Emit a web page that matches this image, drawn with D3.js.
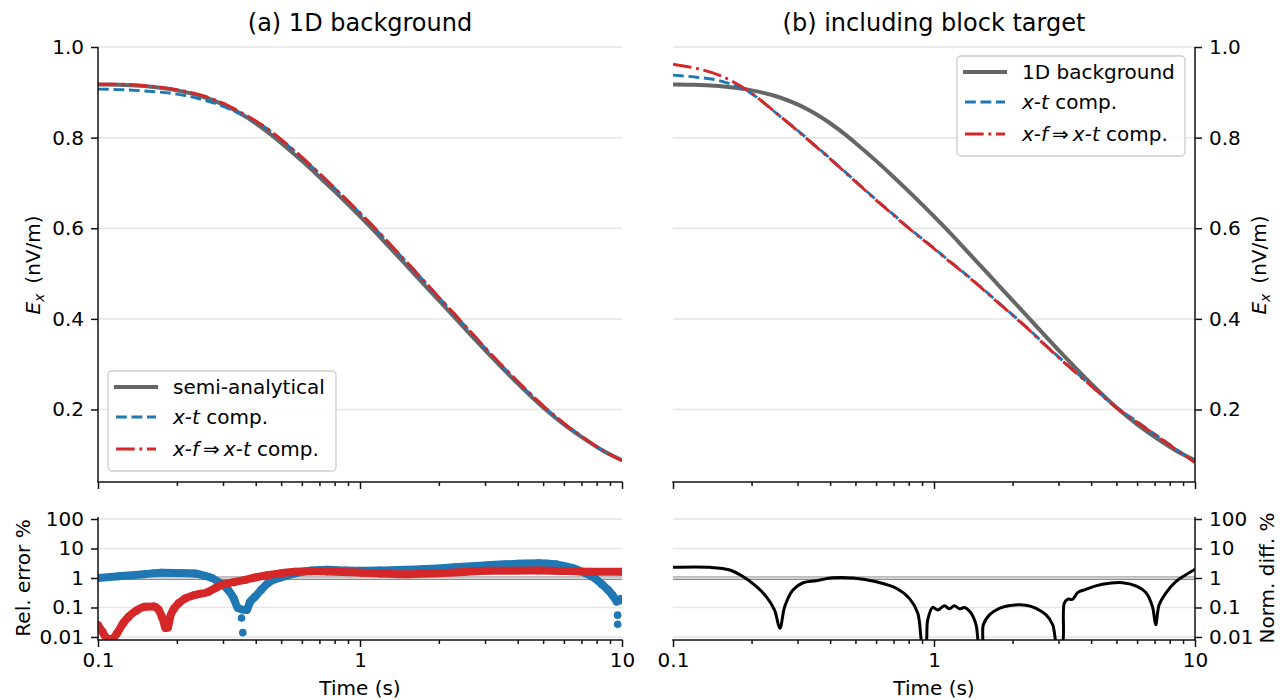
<!DOCTYPE html>
<html><head><meta charset="utf-8">
<script src="https://cdn.jsdelivr.net/npm/d3@7"></script>
<style>
body{margin:0;background:#fff}
svg{display:block}
text{font-family:"DejaVu Sans",sans-serif;fill:#000}
</style>
</head><body>
<svg id="chart" width="1280" height="700"></svg>
<script>
// ---------------- data ----------------
const timeTop = [0.1,0.12,0.15,0.2,0.25,0.3,0.35,0.4,0.455,0.5,0.6,0.7,0.8,1.0,1.1,1.25,1.5,1.75,2.0,2.26,2.5,3.0,3.5,4.0,5.08,6.0,7.0,8.5,10];
const semiAnalytical = [0.917,0.9166,0.9137,0.9043,0.8907,0.8733,0.8532,0.8317,0.8076,0.7883,0.7487,0.7132,0.6813,0.6261,0.6017,0.5678,0.5187,0.4769,0.4406,0.4077,0.3801,0.331,0.2908,0.2572,0.2011,0.1671,0.1397,0.1085,0.088];
const xtCompA = [0.907,0.906,0.903,0.896,0.884,0.869,0.852,0.836,0.814,0.795,0.756,0.72,0.688,0.633,0.609,0.575,0.526,0.484,0.447,0.414,0.386,0.336,0.295,0.261,0.204,0.169,0.141,0.109,0.087];
const xfCompA = [0.918,0.918,0.915,0.906,0.893,0.876,0.856,0.837,0.815,0.796,0.757,0.721,0.689,0.634,0.61,0.576,0.527,0.485,0.448,0.415,0.387,0.337,0.296,0.262,0.205,0.17,0.141,0.109,0.087];
const background1D = [0.917,0.9166,0.9137,0.9043,0.8907,0.8733,0.8532,0.8317,0.8076,0.7883,0.7487,0.7132,0.6813,0.6261,0.6017,0.5678,0.5187,0.4769,0.4406,0.4077,0.3801,0.331,0.2908,0.2572,0.2011,0.1671,0.1397,0.1085,0.088];
const xtCompB = [0.938,0.934,0.926,0.897,0.853,0.816,0.783,0.754,0.725,0.704,0.663,0.63,0.601,0.556,0.536,0.51,0.472,0.438,0.409,0.382,0.358,0.316,0.282,0.253,0.202,0.173,0.146,0.112,0.084];
const xfCompB = [0.962,0.954,0.938,0.898,0.853,0.815,0.782,0.753,0.724,0.703,0.662,0.629,0.6,0.555,0.535,0.509,0.471,0.437,0.408,0.381,0.357,0.315,0.281,0.252,0.201,0.172,0.145,0.111,0.083];

const relErrXtTime = [0.1,0.12,0.15,0.175,0.2,0.234,0.255,0.272,0.29,0.314,0.33,0.342,0.369,0.38,0.397,0.42,0.446,0.5,0.565,0.655,0.75,0.876,1.0,1.2,1.72,2.3,3.08,4.0,4.8,5.6,6.45,7.2,7.85,8.4,8.85,9.2,9.55];
const relErrXtValue = [1.0,1.15,1.35,1.5,1.48,1.42,1.2,1.0,0.7,0.39,0.2,0.096,0.082,0.15,0.23,0.4,0.68,1.05,1.44,1.8,1.9,1.8,1.75,1.8,1.97,2.3,2.7,3.05,3.15,2.9,2.2,1.5,1.0,0.6,0.39,0.26,0.16];
const relErrXtOutTime = [0.353,0.357,9.62,9.63,9.9,9.95];
const relErrXtOutValue = [0.044,0.014,0.055,0.027,0.2,0.17];
const relErrXfTime = [0.1,0.104,0.108,0.113,0.118,0.125,0.131,0.14,0.151,0.163,0.17,0.175,0.179,0.181,0.185,0.188,0.195,0.203,0.215,0.234,0.264,0.28,0.296,0.33,0.364,0.4,0.447,0.5,0.565,0.65,0.75,1.01,1.2,1.49,1.99,2.5,3.08,4.8,6.0,7.48,10];
const relErrXfValue = [0.025,0.015,0.009,0.0085,0.013,0.03,0.049,0.078,0.105,0.107,0.085,0.05,0.028,0.02,0.021,0.044,0.09,0.138,0.2,0.265,0.34,0.45,0.58,0.72,0.86,1.05,1.26,1.45,1.62,1.68,1.66,1.52,1.42,1.33,1.45,1.6,1.75,1.78,1.72,1.64,1.62];

const normDiffTime = [0.1,0.1385,0.165,0.186,0.209,0.228,0.245,0.2567,0.268,0.288,0.315,0.354,0.41,0.489,0.601,0.717,0.806,0.867,0.906,0.928,0.946,0.989,1.034,1.096,1.146,1.197,1.252,1.308,1.387,1.449,1.493,1.528,1.545,1.63,1.78,2.0,2.25,2.46,2.69,2.85,2.97,3.09,3.155,3.25,3.4,3.55,3.82,4.17,4.69,5.27,5.93,6.48,6.87,7.07,7.28,7.72,8.44,9.2,9.9,10];
const normDiffValue = [2.3,2.3,1.87,1.1,0.51,0.23,0.082,0.0197,0.107,0.39,0.69,0.81,1.02,1.0,0.75,0.45,0.2,0.064,0.005,0.005,0.038,0.101,0.082,0.115,0.09,0.115,0.09,0.1,0.064,0.026,0.005,0.005,0.026,0.056,0.094,0.12,0.12,0.094,0.056,0.026,0.005,0.005,0.139,0.19,0.19,0.32,0.41,0.54,0.66,0.69,0.54,0.32,0.107,0.026,0.12,0.3,0.75,1.26,1.87,1.95];

const refLineValues = [1.1, 0.9];

const xTickValues = [0.1,1,10];
const xTickLabels = ["0.1","1","10"];
const yTopTicks = [0.2,0.4,0.6,0.8,1.0];
const yTopTickLabels = ["0.2","0.4","0.6","0.8","1.0"];
const yBotTicks = [0.01,0.1,1,10,100];
const yBotTickLabels = ["0.01","0.1","1","10","100"];

const titles = ["(a) 1D background","(b) including block target"];
const legendA = [
  [["semi-analytical",false]],
  [["x",true],["-",false],["t",true],[" comp.",false]],
  [["x",true],["-",false],["f",true],["\u2009\u21D2\u2009",false],["x",true],["-",false],["t",true],[" comp.",false]]
];
const legendB = [
  [["1D background",false]],
  [["x",true],["-",false],["t",true],[" comp.",false]],
  [["x",true],["-",false],["f",true],["\u2009\u21D2\u2009",false],["x",true],["-",false],["t",true],[" comp.",false]]
];

// ---------------- styles ----------------
const C = {grey:"#666666", blue:"#1f77b4", red:"#d62728", grid:"#e5e5e5", ink:"#111"};
const FS = 20, FT = 24;
const DASH = "10.8,4.7", DASHDOT = "18.7,4.7,2.9,4.7";

const svg = d3.select("#chart");
const defs = svg.append("defs");

const xA = d3.scaleLog().domain([0.1,10]).range([98,622]);
const xB = d3.scaleLog().domain([0.1,10]).range([673,1195]);
const yTop = d3.scaleLinear().domain([0.04,1.0]).range([482,47]);
const yBot = d3.scaleLog().domain([0.0079,117]).range([640,517]);

function clip(id, xs, ys){
  const [x0,x1]=xs.range(), [y0,y1]=ys.range();
  defs.append("clipPath").attr("id",id).append("rect")
    .attr("x",x0).attr("y",Math.min(y0,y1)).attr("width",x1-x0).attr("height",Math.abs(y0-y1));
}
clip("cTA",xA,yTop); clip("cTB",xB,yTop); clip("cBA",xA,yBot); clip("cBB",xB,yBot);

function grid(xs, ys, ticks){
  const g = svg.append("g");
  g.selectAll("line").data(ticks).join("line")
    .attr("x1",xs.range()[0]).attr("x2",xs.range()[1])
    .attr("y1",d=>ys(d)).attr("y2",d=>ys(d))
    .attr("stroke",C.grid).attr("stroke-width",1.5);
}

function xAxis(xs, ys, withLabels){
  const y0 = ys.range()[0];
  const minor = xs.ticks().filter(d => !xTickValues.some(m => Math.abs(m-d)<1e-9));
  const gm = svg.append("g").attr("transform",`translate(0,${y0})`)
    .call(d3.axisBottom(xs).tickValues(minor).tickSize(4).tickFormat(""));
  const g = svg.append("g").attr("transform",`translate(0,${y0})`)
    .call(d3.axisBottom(xs).tickValues(xTickValues).tickSize(7).tickPadding(6)
      .tickFormat((d,i)=> withLabels ? xTickLabels[i] : ""));
  [gm,g].forEach(a=>{
    a.select(".domain").remove();
    a.selectAll(".tick line").attr("stroke",C.ink).attr("stroke-width",1.5);
    a.selectAll("text").attr("font-size",FS).attr("font-family","DejaVu Sans").attr("fill","#000");
  });
  svg.append("line").attr("x1",xs.range()[0]-0.75).attr("x2",xs.range()[1]+0.75)
    .attr("y1",y0).attr("y2",y0).attr("stroke",C.ink).attr("stroke-width",1.5);
}

function yAxis(xs, ys, ticks, labels, side){
  const xpos = side==="left" ? xs.range()[0] : xs.range()[1];
  const ax = side==="left" ? d3.axisLeft(ys) : d3.axisRight(ys);
  const g = svg.append("g").attr("transform",`translate(${xpos},0)`)
    .call(ax.tickValues(ticks).tickSize(7).tickPadding(7).tickFormat((d,i)=>labels[i]));
  g.select(".domain").remove();
  g.selectAll(".tick line").attr("stroke",C.ink).attr("stroke-width",1.5);
  g.selectAll("text").attr("font-size",FS).attr("font-family","DejaVu Sans").attr("fill","#000");
  svg.append("line").attr("x1",xpos).attr("x2",xpos)
    .attr("y1",ys.range()[0]).attr("y2",ys.range()[1]).attr("stroke",C.ink).attr("stroke-width",1.5);
}

function curve(xs, ys, times, vals, color, width, dash, clipId, curveType){
  const pts = times.map((t,i)=>[t,vals[i]]);
  const line = d3.line().x(d=>xs(d[0])).y(d=>ys(d[1])).curve(curveType || d3.curveMonotoneX);
  svg.append("path").datum(pts).attr("d",line)
    .attr("fill","none").attr("stroke",color).attr("stroke-width",width)
    .attr("stroke-dasharray",dash||null).attr("stroke-linejoin","round")
    .attr("clip-path",`url(#${clipId})`);
}

function scatterBand(xs, ys, times, vals, color, clipId){
  const pts = times.map((t,i)=>[t,vals[i]]);
  const g = svg.append("g").attr("clip-path",`url(#${clipId})`);
  const line = d3.line().x(d=>xs(d[0])).y(d=>ys(d[1])).curve(d3.curveMonotoneX);
  g.append("path").datum(pts).attr("d",line).attr("fill","none").attr("stroke",color)
    .attr("stroke-width",8).attr("stroke-linecap","round").attr("stroke-linejoin","round");
  g.selectAll("circle").data(pts).join("circle")
    .attr("cx",d=>xs(d[0])).attr("cy",d=>ys(d[1])).attr("r",4).attr("fill",color);
}
function scatterDots(xs, ys, times, vals, color, clipId){
  const pts = times.map((t,i)=>[t,vals[i]]);
  svg.append("g").attr("clip-path",`url(#${clipId})`).selectAll("circle").data(pts).join("circle")
    .attr("cx",d=>xs(d[0])).attr("cy",d=>ys(d[1])).attr("r",3.8).attr("fill",color);
}

function legend(x, y, w, h, rowsY, entries, styles){
  const g = svg.append("g");
  g.append("rect").attr("x",x).attr("y",y).attr("width",w).attr("height",h).attr("rx",4)
    .attr("fill","#fff").attr("fill-opacity",0.8).attr("stroke","#cccccc").attr("stroke-width",1.3);
  entries.forEach((parts,i)=>{
    const cy = y + rowsY[i];
    const s = styles[i];
    g.append("line").attr("x1",x+8).attr("x2",x+48).attr("y1",cy).attr("y2",cy)
      .attr("stroke",s.color).attr("stroke-width",s.width)
      .attr("stroke-dasharray",s.dash||null).attr("stroke-linecap",s.dash?"butt":"square");
    const t = g.append("text").attr("x",x+65).attr("y",cy).attr("dy","0.36em").attr("font-size",FS);
    parts.forEach(p=>t.append("tspan").text(p[0]).attr("font-style",p[1]?"italic":"normal"));
  });
}

function exLabel(x, y){
  const t = svg.append("text").attr("transform",`translate(${x},${y}) rotate(-90)`)
    .attr("text-anchor","middle").attr("font-size",FS);
  t.append("tspan").attr("font-style","italic").text("E");
  t.append("tspan").attr("font-style","italic").attr("font-size",14).attr("dy",4).text("x");
  t.append("tspan").attr("dy",-4).text("\u2002(nV/m)");
}

// ---------------- panels ----------------
grid(xA,yTop,yTopTicks); grid(xB,yTop,yTopTicks);
grid(xA,yBot,yBotTicks); grid(xB,yBot,yBotTicks);

[xA,xB].forEach(xs=>{
  svg.append("g").selectAll("line").data(refLineValues).join("line")
    .attr("x1",xs.range()[0]).attr("x2",xs.range()[1])
    .attr("y1",d=>yBot(d)).attr("y2",d=>yBot(d))
    .attr("stroke",(d,i)=> i===0 ? "#bdbdbd" : "#8c8c8c").attr("stroke-width",(d,i)=> i===0?1.8:1.3);
});

curve(xA,yTop,timeTop,semiAnalytical,C.grey,4,null,"cTA");
curve(xA,yTop,timeTop,xtCompA,C.blue,2.9,DASH,"cTA");
curve(xA,yTop,timeTop,xfCompA,C.red,2.9,DASHDOT,"cTA");
curve(xB,yTop,timeTop,background1D,C.grey,4,null,"cTB");
curve(xB,yTop,timeTop,xtCompB,C.blue,2.9,DASH,"cTB");
curve(xB,yTop,timeTop,xfCompB,C.red,2.9,DASHDOT,"cTB");

scatterBand(xA,yBot,relErrXtTime,relErrXtValue,C.blue,"cBA");
scatterDots(xA,yBot,relErrXtOutTime,relErrXtOutValue,C.blue,"cBA");
scatterBand(xA,yBot,relErrXfTime,relErrXfValue,C.red,"cBA");
curve(xB,yBot,normDiffTime,normDiffValue,"#000",3,null,"cBB",d3.curveCatmullRom.alpha(0.5));

xAxis(xA,yTop,false); xAxis(xB,yTop,false);
xAxis(xA,yBot,true); xAxis(xB,yBot,true);
yAxis(xA,yTop,yTopTicks,yTopTickLabels,"left");
yAxis(xB,yTop,yTopTicks,yTopTickLabels,"right");
yAxis(xA,yBot,yBotTicks,yBotTickLabels,"left");
yAxis(xB,yBot,yBotTicks,yBotTickLabels,"right");

const styles = [
  {color:C.grey,width:4},
  {color:C.blue,width:2.9,dash:DASH},
  {color:C.red,width:2.9,dash:DASHDOT}
];
legend(108,371,228,100,[16,46,78],legendA,styles);
legend(957,56,228,100,[16,46,78],legendB,styles);

svg.append("text").attr("x",(xA.range()[0]+xA.range()[1])/2).attr("y",31).attr("text-anchor","middle").attr("font-size",FT).text(titles[0]);
svg.append("text").attr("x",(xB.range()[0]+xB.range()[1])/2).attr("y",31).attr("text-anchor","middle").attr("font-size",FT).text(titles[1]);
exLabel(40,265);
exLabel(1266,265);
svg.append("text").attr("transform","translate(30,578) rotate(-90)").attr("text-anchor","middle").attr("font-size",FS).text("Rel. error %");
svg.append("text").attr("transform","translate(1274,578) rotate(-90)").attr("text-anchor","middle").attr("font-size",FS).text("Norm. diff. %");
svg.append("text").attr("x",(xA.range()[0]+xA.range()[1])/2).attr("y",695).attr("text-anchor","middle").attr("font-size",FS).text("Time (s)");
svg.append("text").attr("x",(xB.range()[0]+xB.range()[1])/2).attr("y",695).attr("text-anchor","middle").attr("font-size",FS).text("Time (s)");
</script>
</body></html>
